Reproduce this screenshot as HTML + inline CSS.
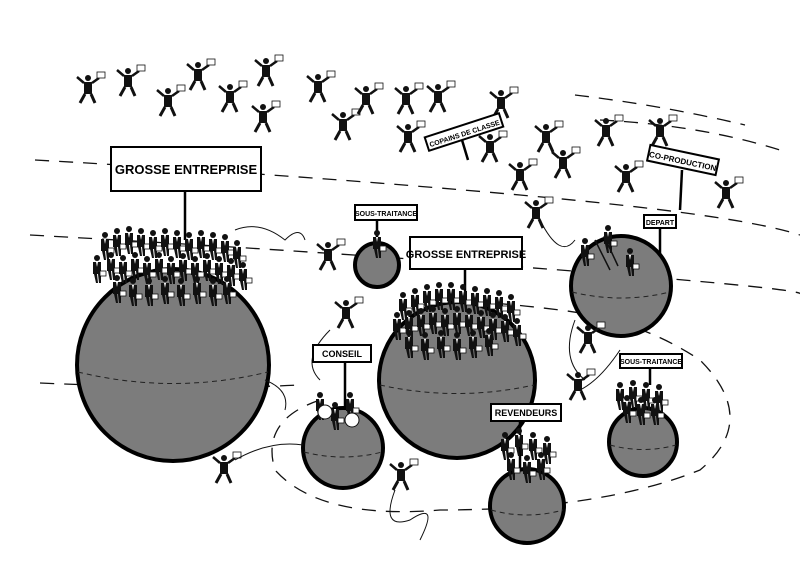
<!DOCTYPE html>
<html><head><meta charset="utf-8"><style>
html,body{margin:0;padding:0;background:#fff}
svg{display:block}
text{font-family:"Liberation Sans",sans-serif;font-weight:bold}
</style></head><body>
<svg width="800" height="587" viewBox="0 0 800 587" xmlns="http://www.w3.org/2000/svg">
<defs>
<g id="p">
<circle cx="5" cy="3" r="3" fill="#111"/>
<path d="M1 7 L9 7 L9 19 L1 19Z" fill="#111"/>
<path d="M4 7 L6 7 L5 12Z" fill="#fff"/>
<path d="M2 19 L4 28 L6 28 L5 19 M6 19 L7 28 L9 28 L9 19" fill="#111"/>
<rect x="8" y="16" width="6" height="5" fill="#fff" stroke="#111" stroke-width=".8"/>
</g>
<g id="f">
<circle cx="8" cy="3" r="3" fill="#111"/>
<path d="M4 7 L12 7 L12 19 L4 19Z" fill="#111"/>
<path d="M4 8 L-3 2 M12 8 L19 3" stroke="#111" stroke-width="2.5"/>
<path d="M5 19 L0 28 M11 19 L15 28" stroke="#111" stroke-width="3"/>
<rect x="17" y="-3" width="8" height="6" fill="#fff" stroke="#111" stroke-width=".8"/>
</g>
</defs>
<g fill="none" stroke="#111" stroke-width="1.3" stroke-dasharray="14,10">
<path d="M35 160 Q300 175 520 195 T800 235"/>
<path d="M30 235 Q300 250 560 270 T800 295"/>
<path d="M40 383 Q200 390 300 385"/>
<path d="M575 95 Q660 105 745 125"/>
<path d="M600 120 Q700 125 780 150"/>
<path d="M320 400 Q260 420 275 470 Q320 520 440 510 Q600 510 700 470 Q760 420 700 360 Q640 320 560 310 Q480 300 420 300"/>
</g>
<g stroke="#000" stroke-width="4" fill="#7c7c7c">
<circle cx="173" cy="365" r="96"/>
<circle cx="377" cy="265" r="22"/>
<circle cx="457" cy="380" r="78"/>
<circle cx="621" cy="286" r="50"/>
<circle cx="343" cy="448" r="40"/>
<circle cx="527" cy="506" r="37"/>
<circle cx="643" cy="442" r="34"/>
</g>
<g fill="none" stroke="#222" stroke-width="1" stroke-dasharray="5,4">
<path d="M78 372 Q173 395 268 372"/>
<path d="M380 385 Q457 402 534 385"/>
<path d="M572 292 Q621 304 670 292"/>
<path d="M304 452 Q343 462 382 452"/>
<path d="M491 510 Q527 520 563 510"/>
<path d="M610 445 Q643 454 676 445"/>
</g>
<g stroke="#000" stroke-width="2.5">
<line x1="185" y1="190" x2="185" y2="240"/>
<line x1="377" y1="220" x2="377" y2="245"/>
<line x1="465" y1="240" x2="465" y2="300"/>
<line x1="660" y1="228" x2="660" y2="255"/>
<line x1="345" y1="360" x2="345" y2="410"/>
<line x1="520" y1="420" x2="520" y2="470"/>
<line x1="650" y1="367" x2="650" y2="385"/>
<line x1="462" y1="140" x2="468" y2="160"/>
<line x1="682" y1="170" x2="680" y2="210"/>
</g>
<!-- crowd big left -->
<g>
<use href="#p" x="100" y="232"/><use href="#p" x="112" y="228"/><use href="#p" x="124" y="226"/><use href="#p" x="136" y="228"/><use href="#p" x="148" y="230"/><use href="#p" x="160" y="228"/><use href="#p" x="172" y="230"/><use href="#p" x="184" y="232"/><use href="#p" x="196" y="230"/><use href="#p" x="208" y="232"/><use href="#p" x="220" y="234"/><use href="#p" x="232" y="240"/>
<use href="#p" x="92" y="255"/><use href="#p" x="106" y="252"/><use href="#p" x="118" y="255"/><use href="#p" x="130" y="252"/><use href="#p" x="142" y="256"/><use href="#p" x="154" y="252"/><use href="#p" x="166" y="256"/><use href="#p" x="178" y="253"/><use href="#p" x="190" y="256"/><use href="#p" x="202" y="253"/><use href="#p" x="214" y="256"/><use href="#p" x="226" y="258"/><use href="#p" x="238" y="262"/>
<use href="#p" x="112" y="275"/><use href="#p" x="128" y="278"/><use href="#p" x="144" y="278"/><use href="#p" x="160" y="276"/><use href="#p" x="176" y="278"/><use href="#p" x="192" y="276"/><use href="#p" x="208" y="278"/><use href="#p" x="222" y="276"/>
</g>
<!-- crowd middle -->
<g>
<use href="#p" x="398" y="292"/><use href="#p" x="410" y="288"/><use href="#p" x="422" y="284"/><use href="#p" x="434" y="282"/><use href="#p" x="446" y="282"/><use href="#p" x="458" y="284"/><use href="#p" x="470" y="286"/><use href="#p" x="482" y="288"/><use href="#p" x="494" y="290"/><use href="#p" x="506" y="294"/>
<use href="#p" x="392" y="312"/><use href="#p" x="404" y="310"/><use href="#p" x="416" y="308"/><use href="#p" x="428" y="306"/><use href="#p" x="440" y="308"/><use href="#p" x="452" y="306"/><use href="#p" x="464" y="308"/><use href="#p" x="476" y="310"/><use href="#p" x="488" y="312"/><use href="#p" x="500" y="314"/><use href="#p" x="512" y="318"/>
<use href="#p" x="404" y="330"/><use href="#p" x="420" y="332"/><use href="#p" x="436" y="330"/><use href="#p" x="452" y="332"/><use href="#p" x="468" y="330"/><use href="#p" x="484" y="328"/>
</g>
<!-- revendeurs -->
<g><use href="#p" x="500" y="432"/><use href="#p" x="514" y="428"/><use href="#p" x="528" y="432"/><use href="#p" x="542" y="436"/><use href="#p" x="506" y="452"/><use href="#p" x="522" y="455"/><use href="#p" x="536" y="452"/></g>
<!-- sous-traitance right -->
<g><use href="#p" x="615" y="382"/><use href="#p" x="628" y="380"/><use href="#p" x="641" y="382"/><use href="#p" x="654" y="384"/><use href="#p" x="622" y="395"/><use href="#p" x="636" y="397"/><use href="#p" x="650" y="397"/></g>
<!-- conseil -->
<g><use href="#p" x="315" y="392"/><use href="#p" x="345" y="392"/><use href="#p" x="330" y="402"/></g>
<circle cx="325" cy="412" r="7" fill="#fff" stroke="#111"/><circle cx="352" cy="420" r="7" fill="#fff" stroke="#111"/>
<!-- depart -->
<g><use href="#p" x="580" y="238"/><use href="#p" x="603" y="225"/><use href="#p" x="625" y="248"/><use href="#p" x="372" y="230"/></g>
<path d="M595 240 L610 270 M604 236 L618 266" stroke="#111" stroke-width="1.5"/>
<!-- flying -->
<g>
<use href="#f" x="80" y="75"/><use href="#f" x="120" y="68"/><use href="#f" x="160" y="88"/><use href="#f" x="190" y="62"/><use href="#f" x="222" y="84"/><use href="#f" x="258" y="58"/><use href="#f" x="255" y="104"/><use href="#f" x="310" y="74"/><use href="#f" x="335" y="112"/><use href="#f" x="358" y="86"/><use href="#f" x="398" y="86"/><use href="#f" x="430" y="84"/><use href="#f" x="400" y="124"/><use href="#f" x="493" y="90"/><use href="#f" x="482" y="134"/><use href="#f" x="538" y="124"/><use href="#f" x="512" y="162"/><use href="#f" x="555" y="150"/><use href="#f" x="598" y="118"/><use href="#f" x="618" y="164"/><use href="#f" x="652" y="118"/><use href="#f" x="718" y="180"/><use href="#f" x="528" y="200"/><use href="#f" x="320" y="242"/><use href="#f" x="338" y="300"/><use href="#f" x="570" y="372"/><use href="#f" x="216" y="455"/><use href="#f" x="393" y="462"/><use href="#f" x="580" y="325"/>
</g>
<g fill="none" stroke="#111" stroke-width="1">
<path d="M235 230 Q260 220 285 240 Q300 225 305 240"/>
<path d="M330 330 Q300 360 320 380"/>
<path d="M235 460 Q270 440 303 445"/>
<path d="M395 490 Q380 530 410 520 Q440 500 420 540"/>
<path d="M540 220 Q560 260 575 240"/>
<path d="M575 320 Q560 360 585 380"/>
<path d="M620 350 Q600 380 580 390"/>
<path d="M265 380 Q290 390 285 410"/>
</g>
<g fill="#fff" stroke="#000" stroke-width="2">
<rect x="111" y="147" width="150" height="44"/>
<rect x="355" y="205" width="62" height="15"/>
<rect x="410" y="237" width="112" height="32"/>
<rect x="425" y="125" width="78" height="14" transform="rotate(-18 464 132)"/>
<rect x="648" y="152" width="70" height="16" transform="rotate(12 683 160)"/>
<rect x="644" y="215" width="32" height="13"/>
<rect x="313" y="345" width="58" height="17"/>
<rect x="491" y="404" width="70" height="17"/>
<rect x="620" y="354" width="62" height="14"/>
</g>
<g fill="#000" text-anchor="middle">
<text x="186" y="174" font-size="13">GROSSE ENTREPRISE</text>
<text x="386" y="216" font-size="7">SOUS-TRAITANCE</text>
<text x="466" y="258" font-size="11">GROSSE ENTREPRISE</text>
<text x="464" y="136" font-size="7" transform="rotate(-18 464 132)">COPAINS DE CLASSE</text>
<text x="683" y="164" font-size="8" transform="rotate(12 683 160)">CO-PRODUCTION</text>
<text x="660" y="225" font-size="7">DEPART</text>
<text x="342" y="357" font-size="9">CONSEIL</text>
<text x="526" y="416" font-size="9">REVENDEURS</text>
<text x="651" y="364" font-size="7">SOUS-TRAITANCE</text>
</g>
</svg>
</body></html>
